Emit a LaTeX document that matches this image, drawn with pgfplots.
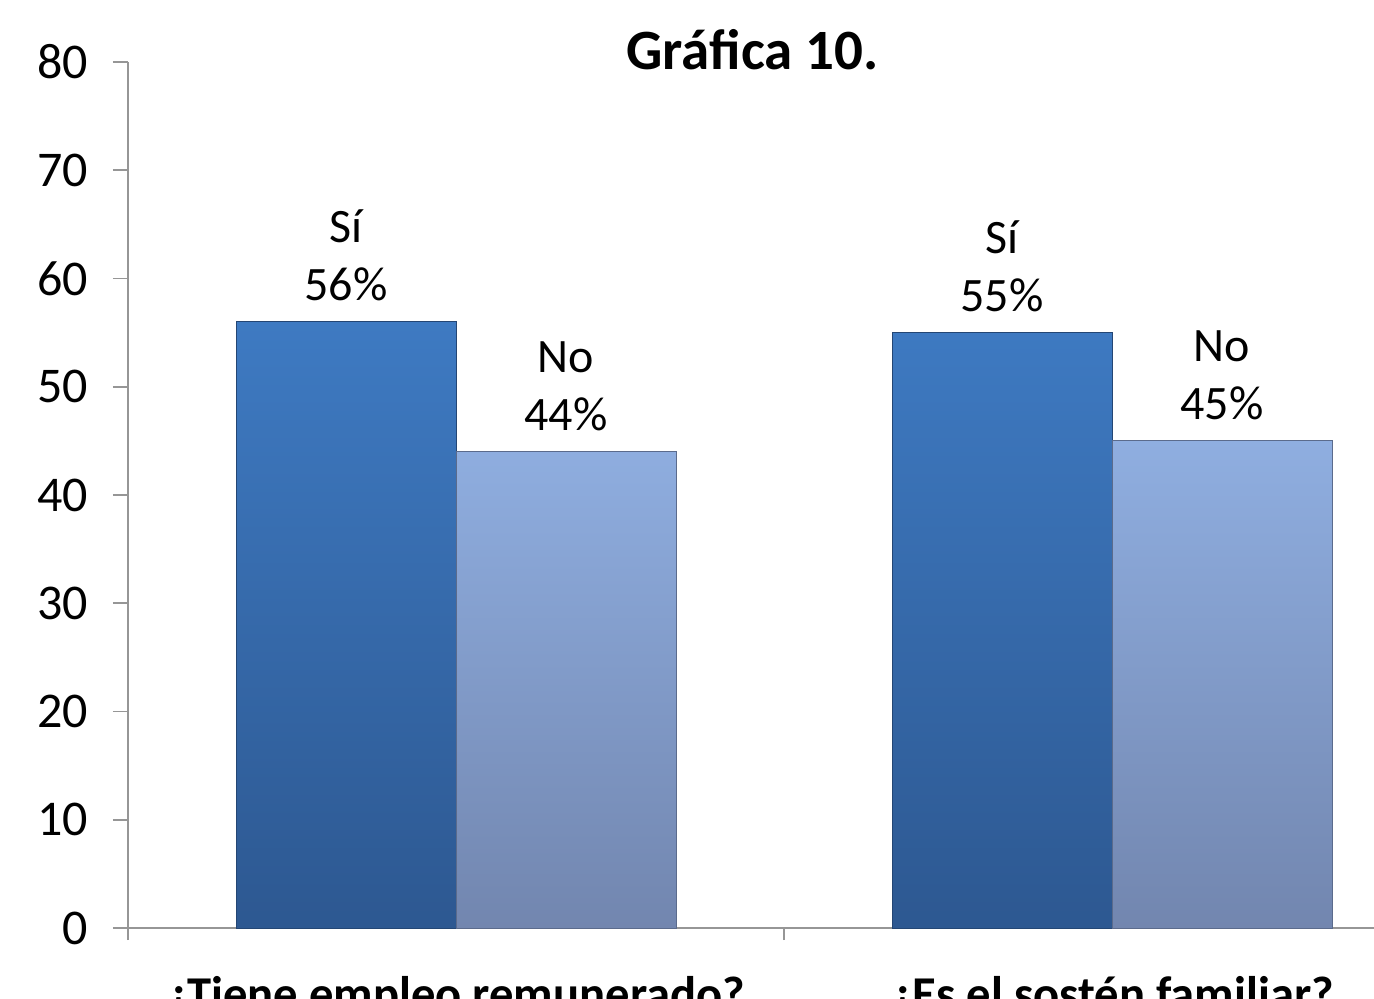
\documentclass[border=0pt]{standalone}
\usepackage{fontspec}
\setmainfont{Carlito}
\usepackage{pgfplots}
\pgfplotsset{compat=1.18}
\definecolor{siTop}{RGB}{62,122,194}
\definecolor{siBot}{RGB}{45,88,145}
\definecolor{noTop}{RGB}{143,174,224}
\definecolor{noBot}{RGB}{114,134,175}
\definecolor{axgray}{RGB}{150,150,150}
\begin{document}
\begin{tikzpicture}
\useasboundingbox (-64pt,-35pt) rectangle (623pt,464pt);
\clip (-64pt,-35pt) rectangle (623pt,464pt);
\begin{axis}[
  scale only axis, width=656pt, height=433pt,
  xmin=-0.5, xmax=1.5, ymin=0, ymax=80,
  ybar=0pt, bar width=110pt,
  axis x line=bottom, axis y line=left,
  axis line style={axgray, -, line width=0.8pt},
  tick align=outside,
  major tick length=7.5pt, minor tick length=6pt,
  ytick={0,10,...,80},
  ytick style={axgray, line width=0.8pt},
  xtick={0,1},
  xticklabels={¿Tiene empleo remunerado?, ¿Es el sostén familiar?},
  minor xtick={-0.5,0.5,1.5},
  major x tick style={draw=none},
  minor x tick style={axgray, line width=0.8pt},
  /pgf/number format/assume math mode=true,
  yticklabel style={font=\fontsize{25}{29}\selectfont, xshift=-9pt},
  xticklabel style={font=\bfseries\fontsize{24.3}{28}\selectfont, anchor=base, yshift=-33.5pt},
  title={Gráfica 10.},
  title style={font=\bfseries\fontsize{28.5}{32}\selectfont, at={(0.476,1)}, anchor=base, yshift=-9.5pt},
  nodes near coords align={vertical},
  every node near coord/.append style={align=center, font=\fontsize{24}{29}\selectfont, anchor=south, text=black, yshift=7pt},
]
\addplot[top color=siTop, bottom color=siBot, draw=siBot!80!black, line width=0.5pt,
  nodes near coords={Sí\\\pgfmathprintnumber{\pgfplotspointmeta}\%}]
  coordinates {(0,56) (1,55)};
\addplot[top color=noTop, bottom color=noBot, draw=noBot!80!black, line width=0.5pt,
  nodes near coords={No\\\pgfmathprintnumber{\pgfplotspointmeta}\%}]
  coordinates {(0,44) (1,45)};
\end{axis}
\end{tikzpicture}
\end{document}
